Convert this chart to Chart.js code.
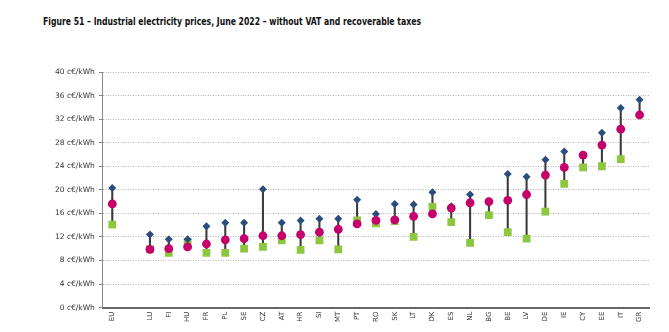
<!DOCTYPE html>
<html>
<head>
<meta charset="utf-8">
<script src="https://cdn.jsdelivr.net/npm/chart.js@4"></script>
<style>
  html, body { margin: 0; padding: 0; background: #fff; }
  body { width: 669px; height: 332px; position: relative; overflow: hidden; }
  #title { position: absolute; left: 43px; top: 15px; font-family: "DejaVu Sans Condensed", "DejaVu Sans", sans-serif; font-weight: bold; font-size: 11px; color: #111; white-space: nowrap; transform: scaleX(0.78); transform-origin: left top; }
  #wrap { position: absolute; left: 0; top: 60px; width: 669px; height: 272px; }
</style>
</head>
<body>
<div id="title">Figure 51 – Industrial electricity prices, June 2022 – without VAT and recoverable taxes</div>
<div id="wrap"><canvas id="c"></canvas></div>
<script>
const categories = ["EU", "", "LU", "FI", "HU", "FR", "PL", "SE", "CZ", "AT", "HR", "SI", "MT", "PT", "RO", "SK", "LT", "DK", "ES", "NL", "BG", "BE", "LV", "DE", "IE", "CY", "EE", "IT", "GR"];
const highest = [20.3, null, 12.4, 11.6, 11.6, 13.8, 14.4, 14.4, 20.1, 14.4, 14.8, 15.1, 15.1, 18.3, 15.9, 17.6, 17.5, 19.6, 17.2, 19.2, 18.0, 22.7, 22.2, 25.1, 26.5, 25.9, 29.7, 33.9, 35.3];
const middle  = [17.6, null, 9.9, 10.0, 10.3, 10.8, 11.5, 11.7, 12.2, 12.2, 12.4, 12.8, 13.3, 14.2, 14.8, 14.9, 15.5, 15.9, 16.9, 17.8, 18.0, 18.2, 19.2, 22.5, 23.8, 25.9, 27.6, 30.3, 32.7];
const lowest  = [14.1, null, 9.9, 9.3, 11.1, 9.3, 9.3, 10.0, 10.3, 11.4, 9.8, 11.4, 9.9, 14.8, 14.3, 14.7, 12.0, 17.1, 14.5, 11.0, 15.7, 12.8, 11.7, 16.3, 21.0, 23.8, 24.0, 25.2, null];
const yTicks = [0, 4, 8, 12, 16, 20, 24, 28, 32, 36, 40];

const ranges = categories.map((_, i) => {
  const v = [highest[i], middle[i], lowest[i]].filter(x => x !== null);
  return v.length ? [Math.min(...v), Math.max(...v)] : null;
});

const ctx = document.getElementById('c');
new Chart(ctx, {
  data: {
    labels: categories,
    datasets: [
      { type: 'bar', data: ranges, backgroundColor: '#3a3a3a', barThickness: 1.4, grouped: false, order: 4 },
      { type: 'line', data: lowest, showLine: false, pointStyle: 'rect', pointRadius: 5.5, backgroundColor: '#8dc63f', borderColor: '#8dc63f', borderWidth: 0, order: 3 },
      { type: 'line', data: highest, showLine: false, pointStyle: 'rectRot', pointRadius: 4, backgroundColor: '#2b4d7c', borderColor: '#2b4d7c', borderWidth: 0, order: 2 },
      { type: 'line', data: middle, showLine: false, pointStyle: 'circle', pointRadius: 4.4, backgroundColor: '#c5006a', borderColor: '#c5006a', borderWidth: 0, order: 1 }
    ]
  },
  options: {
    responsive: true,
    maintainAspectRatio: false,
    animation: false,
    layout: { padding: { left: 51, right: 20, top: 12, bottom: 6 } },
    plugins: { legend: { display: false }, tooltip: { enabled: false } },
    scales: {
      x: {
        offset: true,
        grid: { display: false, drawTicks: false },
        border: { display: true, color: '#666', width: 2 },
        ticks: { minRotation: 90, maxRotation: 90, autoSkip: false, padding: 4, color: '#333', font: { family: 'DejaVu Sans', size: 7 } }
      },
      y: {
        min: 0, max: 40,
        afterBuildTicks: (axis) => { axis.ticks = yTicks.map(v => ({ value: v })); },
        grid: { color: '#b5b5b5', lineWidth: 1, drawTicks: true, tickLength: 4, tickColor: '#888' },
        border: { display: true, color: '#888', width: 1, dash: [1, 1.5] },
        ticks: { padding: 4, color: '#333', font: { family: 'DejaVu Sans', size: 7.5 }, callback: (v) => v + ' c€/kWh' }
      }
    }
  }
});
</script>
</body>
</html>
